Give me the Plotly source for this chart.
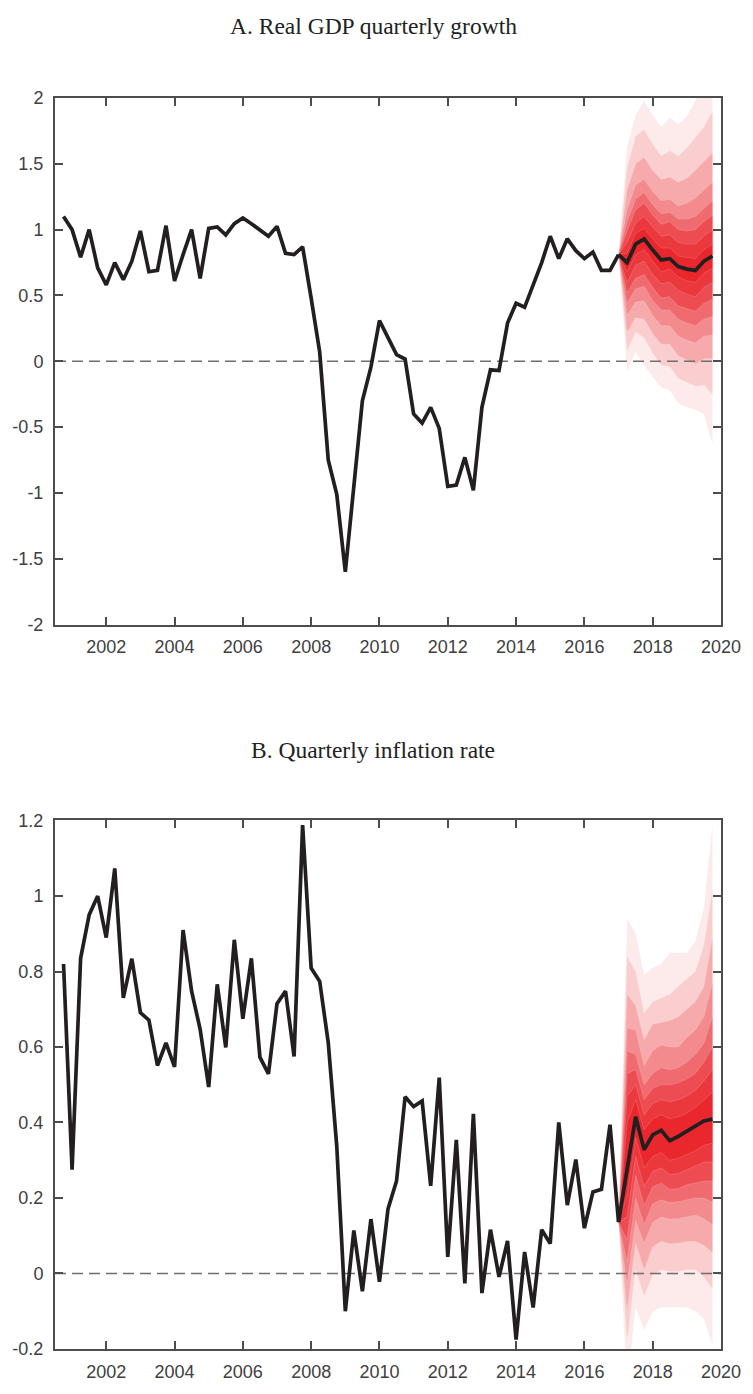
import plotly.graph_objects as go

# ---------------- data ----------------
hist_start = 2000.75          # first observation (quarterly)
quarter = 0.25
fc_start = 2017.0             # forecast origin (last observation)

gdp_hist = [1.10, 1.00, 0.79, 1.00, 0.71, 0.58, 0.75, 0.62, 0.76, 0.99,
            0.68, 0.69, 1.03, 0.61, 0.81, 1.00, 0.63, 1.01, 1.02, 0.96,
            1.045, 1.088, 1.045, 0.995, 0.95, 1.025, 0.82, 0.81, 0.87, 0.48,
            0.07, -0.75, -1.01, -1.60, -0.95, -0.30, -0.045, 0.31, 0.18, 0.05,
            0.017, -0.40, -0.47, -0.35, -0.51, -0.95, -0.94, -0.73, -0.98, -0.35,
            -0.065, -0.07, 0.29, 0.44, 0.41, 0.58, 0.75, 0.95, 0.78, 0.93,
            0.84, 0.78, 0.83, 0.69, 0.69, 0.81]

infl_hist = [0.82, 0.275, 0.835, 0.95, 1.00, 0.89, 1.073, 0.73, 0.834, 0.691,
             0.671, 0.551, 0.611, 0.547, 0.91, 0.748, 0.647, 0.494, 0.766, 0.599,
             0.884, 0.675, 0.835, 0.573, 0.529, 0.715, 0.748, 0.575, 1.188, 0.809,
             0.774, 0.612, 0.337, -0.10, 0.114, -0.047, 0.144, -0.022, 0.171, 0.245,
             0.468, 0.442, 0.457, 0.232, 0.519, 0.044, 0.354, -0.026, 0.423, -0.052,
             0.116, -0.009, 0.086, -0.175, 0.057, -0.09, 0.116, 0.079, 0.40, 0.181,
             0.302, 0.12, 0.216, 0.223, 0.394, 0.136]

# forecast fan, panel A (2017.0 ... 2019.75)
gdp_median = [0.81, 0.75, 0.89, 0.93, 0.845, 0.77, 0.78, 0.72, 0.70, 0.69, 0.76, 0.80]
gdp_p95 = [0.81, 1.63, 1.87, 1.98, 1.87, 1.78, 1.85, 1.80, 1.86, 1.98, 2.08, 2.25]
gdp_p90 = [0.81, 1.47, 1.71, 1.76, 1.65, 1.56, 1.60, 1.56, 1.62, 1.70, 1.78, 1.90]
gdp_p85 = [0.81, 1.30, 1.50, 1.55, 1.45, 1.38, 1.40, 1.36, 1.39, 1.45, 1.52, 1.58]
gdp_p80 = [0.81, 1.15, 1.34, 1.38, 1.29, 1.22, 1.23, 1.18, 1.20, 1.24, 1.30, 1.36]
gdp_p75 = [0.81, 1.06, 1.23, 1.28, 1.19, 1.12, 1.13, 1.08, 1.08, 1.10, 1.16, 1.22]
gdp_p70 = [0.81, 0.99, 1.15, 1.20, 1.11, 1.04, 1.06, 1.00, 0.99, 1.00, 1.06, 1.11]
gdp_p65 = [0.81, 0.90, 1.05, 1.10, 1.02, 0.95, 0.96, 0.90, 0.89, 0.89, 0.95, 1.00]
gdp_p60 = [0.81, 0.82, 0.97, 1.01, 0.93, 0.86, 0.86, 0.80, 0.79, 0.78, 0.85, 0.89]
gdp_p40 = [0.81, 0.68, 0.81, 0.85, 0.76, 0.68, 0.70, 0.64, 0.61, 0.60, 0.67, 0.71]
gdp_p35 = [0.81, 0.60, 0.73, 0.76, 0.66, 0.59, 0.60, 0.54, 0.51, 0.49, 0.56, 0.60]
gdp_p30 = [0.81, 0.52, 0.63, 0.66, 0.56, 0.48, 0.49, 0.42, 0.40, 0.38, 0.44, 0.47]
gdp_p25 = [0.81, 0.44, 0.55, 0.57, 0.46, 0.39, 0.39, 0.32, 0.29, 0.27, 0.32, 0.34]
gdp_p20 = [0.81, 0.35, 0.45, 0.46, 0.35, 0.27, 0.27, 0.19, 0.16, 0.14, 0.19, 0.20]
gdp_p15 = [0.81, 0.22, 0.33, 0.32, 0.21, 0.13, 0.13, 0.04, 0.01, -0.02, 0.02, 0.02]
gdp_p10 = [0.81, 0.08, 0.22, 0.18, 0.06, -0.03, -0.04, -0.13, -0.16, -0.19, -0.18, -0.25]
gdp_p05 = [0.81, -0.08, 0.07, -0.03, -0.12, -0.20, -0.22, -0.32, -0.35, -0.37, -0.40, -0.63]

# forecast fan, panel B
infl_median = [0.136, 0.28, 0.415, 0.328, 0.367, 0.379, 0.352, 0.363, 0.376, 0.389, 0.404, 0.409]
infl_p95 = [0.136, 0.94, 0.90, 0.79, 0.81, 0.82, 0.85, 0.85, 0.85, 0.88, 0.97, 1.19]
infl_p90 = [0.136, 0.84, 0.80, 0.69, 0.72, 0.73, 0.74, 0.76, 0.78, 0.80, 0.87, 1.02]
infl_p85 = [0.136, 0.74, 0.71, 0.62, 0.66, 0.665, 0.67, 0.68, 0.70, 0.72, 0.76, 0.89]
infl_p80 = [0.136, 0.65, 0.645, 0.55, 0.59, 0.605, 0.60, 0.60, 0.625, 0.645, 0.68, 0.77]
infl_p75 = [0.136, 0.59, 0.58, 0.50, 0.53, 0.545, 0.54, 0.545, 0.56, 0.58, 0.61, 0.68]
infl_p70 = [0.136, 0.53, 0.54, 0.46, 0.49, 0.50, 0.50, 0.505, 0.515, 0.53, 0.56, 0.60]
infl_p65 = [0.136, 0.47, 0.50, 0.42, 0.45, 0.46, 0.455, 0.46, 0.47, 0.485, 0.51, 0.54]
infl_p60 = [0.136, 0.40, 0.46, 0.38, 0.41, 0.42, 0.41, 0.415, 0.425, 0.44, 0.46, 0.48]
infl_p40 = [0.136, 0.21, 0.36, 0.28, 0.31, 0.32, 0.30, 0.305, 0.315, 0.325, 0.34, 0.345]
infl_p35 = [0.136, 0.15, 0.31, 0.23, 0.27, 0.28, 0.262, 0.265, 0.275, 0.285, 0.295, 0.295]
infl_p30 = [0.136, 0.09, 0.26, 0.18, 0.23, 0.24, 0.223, 0.225, 0.235, 0.24, 0.245, 0.245]
infl_p25 = [0.136, 0.03, 0.20, 0.13, 0.185, 0.195, 0.188, 0.19, 0.195, 0.20, 0.20, 0.19]
infl_p20 = [0.136, -0.03, 0.14, 0.08, 0.135, 0.15, 0.144, 0.145, 0.15, 0.155, 0.145, 0.13]
infl_p15 = [0.136, -0.10, 0.08, 0.01, 0.07, 0.085, 0.079, 0.08, 0.085, 0.085, 0.075, 0.055]
infl_p10 = [0.136, -0.18, 0.01, -0.06, -0.005, 0.01, 0.005, 0.005, 0.01, 0.01, -0.01, -0.04]
infl_p05 = [0.136, -0.30, -0.09, -0.15, -0.10, -0.09, -0.09, -0.09, -0.09, -0.10, -0.12, -0.19]

x_tickvals = [2002, 2004, 2006, 2008, 2010, 2012, 2014, 2016, 2018, 2020]
gdp_tickvals = [-2, -1.5, -1, -0.5, 0, 0.5, 1, 1.5, 2]
gdp_ticktext = ["-2", "-1.5", "-1", "-0.5", "0", "0.5", "1", "1.5", "2"]
infl_tickvals = [-0.2, 0, 0.2, 0.4, 0.6, 0.8, 1, 1.2]
infl_ticktext = ["-0.2", "0", "0.2", "0.4", "0.6", "0.8", "1", "1.2"]

titles = ["A. Real GDP quarterly growth", "B. Quarterly inflation rate"]

# band colours, outer -> inner
band_colors = ["#fdeaea", "#facdce", "#f6aaac", "#f38a8d",
               "#f06b6f", "#ed4d52", "#eb383d", "#e9272c"]

# ---------------- figure ----------------
hist_x = [hist_start + quarter * i for i in range(len(gdp_hist))]
fc_x = [fc_start + quarter * i for i in range(len(gdp_median))]

fig = go.Figure()

panels = [
    dict(hist=gdp_hist, med=gdp_median,
         bands=[(gdp_p95, gdp_p05), (gdp_p90, gdp_p10), (gdp_p85, gdp_p15),
                (gdp_p80, gdp_p20), (gdp_p75, gdp_p25), (gdp_p70, gdp_p30),
                (gdp_p65, gdp_p35), (gdp_p60, gdp_p40)],
         xa="x", ya="y"),
    dict(hist=infl_hist, med=infl_median,
         bands=[(infl_p95, infl_p05), (infl_p90, infl_p10), (infl_p85, infl_p15),
                (infl_p80, infl_p20), (infl_p75, infl_p25), (infl_p70, infl_p30),
                (infl_p65, infl_p35), (infl_p60, infl_p40)],
         xa="x2", ya="y2"),
]

line_col = "#231f20"
for p in panels:
    for (up, lo), col in zip(p["bands"], band_colors):
        fig.add_trace(go.Scatter(
            x=fc_x + fc_x[::-1], y=up + lo[::-1],
            fill="toself", fillcolor=col, mode="lines",
            line=dict(width=0.6, color="rgba(255,255,255,0.25)"),
            hoverinfo="skip", showlegend=False, xaxis=p["xa"], yaxis=p["ya"]))
    fig.add_trace(go.Scatter(
        x=[2000.5, 2020], y=[0, 0], mode="lines",
        line=dict(color="#6e6e6e", width=1.5, dash="11px,6px"),
        showlegend=False, hoverinfo="skip", xaxis=p["xa"], yaxis=p["ya"]))
    fig.add_trace(go.Scatter(
        x=hist_x, y=p["hist"], mode="lines",
        line=dict(color=line_col, width=3.7),
        showlegend=False, xaxis=p["xa"], yaxis=p["ya"]))
    fig.add_trace(go.Scatter(
        x=fc_x, y=p["med"], mode="lines",
        line=dict(color=line_col, width=3.7),
        showlegend=False, xaxis=p["xa"], yaxis=p["ya"]))

axis_col = "#4d4d4d"
tick_font = dict(family="Liberation Sans, Arial, sans-serif", size=18, color="#404040")
common_x = dict(range=[2000.5, 2020.0001], tickvals=x_tickvals, ticks="inside",
                ticklen=8, tickwidth=1.5, tickcolor=axis_col, showline=True,
                linewidth=2, linecolor=axis_col, mirror="ticks", showgrid=False,
                zeroline=False, tickfont=tick_font, ticklabelstandoff=5)
common_y = dict(ticks="inside", ticklen=8, tickwidth=1.5, tickcolor=axis_col,
                showline=True, linewidth=2, linecolor=axis_col, mirror="ticks",
                showgrid=False, zeroline=False, tickfont=tick_font,
                ticklabelstandoff=6)

H = 1394
mt, mb = 98, 32
ph = H - mt - mb

def py(px):
    return (H - mb - px) / ph

fig.update_layout(
    width=753, height=H,
    margin=dict(l=55, r=25, t=mt, b=mb),
    paper_bgcolor="white", plot_bgcolor="white",
    xaxis=dict(domain=[0, 1], anchor="y", **common_x),
    yaxis=dict(domain=[py(630), 1], anchor="x", range=[-2.0001, 2.0001],
               tickvals=gdp_tickvals, ticktext=gdp_ticktext, **common_y),
    xaxis2=dict(domain=[0, 1], anchor="y2", **common_x),
    yaxis2=dict(domain=[0, py(828)], anchor="x2", range=[-0.2001, 1.2001],
                tickvals=infl_tickvals, ticktext=infl_ticktext, **common_y),
)

title_font = dict(family="Liberation Serif, Times New Roman, serif", size=23.5, color="#222222")
for t, ypx in zip(titles, [25, 757]):
    fig.add_annotation(text=t, xref="paper", yref="paper",
                       x=(376.5 - 55) / (753 - 55 - 25), y=py(ypx),
                       xanchor="center", yanchor="middle", showarrow=False,
                       font=title_font)

fig.write_html("out.html")
